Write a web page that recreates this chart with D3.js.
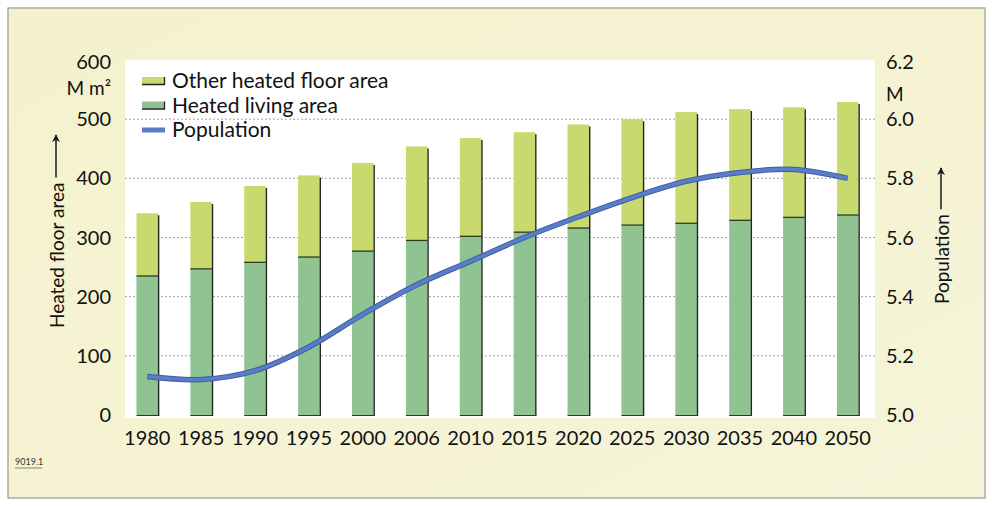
<!DOCTYPE html>
<html>
<head>
<meta charset="utf-8">
<script src="https://cdn.jsdelivr.net/npm/d3@7"></script>
<style>
  body { margin: 0; background: #fff; }
  svg text { font-family: Lato, "Open Sans", sans-serif; fill: #111; }
</style>
</head>
<body>
<svg id="chart" width="992" height="506"></svg>
<script>
// Data
const years = ['1980', '1985', '1990', '1995', '2000', '2006', '2010', '2015', '2020', '2025', '2030', '2035', '2040', '2050'];
const livingArea = [235, 247, 258, 267, 277, 295, 302, 309, 316, 321, 324, 329, 334, 338];
const totalArea = [341, 360, 387, 405, 426, 454, 468, 478, 491, 500, 512, 517, 520, 529];
const population = [5.13, 5.12, 5.15, 5.23, 5.34, 5.44, 5.52, 5.60, 5.67, 5.735, 5.79, 5.82, 5.83, 5.80];
const leftTicks = [0, 100, 200, 300, 400, 500, 600];
const rightTicks = [5.0, 5.2, 5.4, 5.6, 5.8, 6.0, 6.2];

const COLORS = {
    other: '#c8da6e',
    living: '#8fc391',
    line: '#5a7ec6'
};

const svg = d3.select('#chart');
const defs = svg.append('defs');

// Cream panel with frame
const grad = defs.append('linearGradient').attr('id', 'bg').attr('x1', 0).attr('x2', 1).attr('y1', 0).attr('y2', 1);
grad.append('stop').attr('offset', '0%').attr('stop-color', '#f4f2cd');
grad.append('stop').attr('offset', '100%').attr('stop-color', '#f6f4d8');

svg.append('rect')
    .attr('x', 8).attr('y', 8).attr('width', 977).attr('height', 490)
    .attr('fill', 'url(#bg)')
    .attr('stroke', '#9a9a90').attr('stroke-width', 1.2);

// Plot area
const plot = { left: 125, right: 875, top: 60, bottom: 418 };

svg.append('rect')
    .attr('x', plot.left).attr('y', plot.top)
    .attr('width', plot.right - plot.left).attr('height', plot.bottom - plot.top)
    .attr('fill', '#ffffff');

const x = d3.scaleBand()
    .domain(years)
    .range([123, 872])
    .paddingInner(0.6)
    .paddingOuter(0.25);

const yLeft = d3.scaleLinear().domain([0, 600]).range([415, 60]);
const yRight = d3.scaleLinear().domain([5.0, 6.2]).range([415, 60]);

// Dotted gridlines
svg.append('g')
    .selectAll('line')
    .data(leftTicks.filter(d => d > 0 && d < 600))
    .enter().append('line')
    .attr('x1', plot.left).attr('x2', plot.right)
    .attr('y1', d => yLeft(d)).attr('y2', d => yLeft(d))
    .attr('stroke', '#8a8a8a')
    .attr('stroke-width', 0.8)
    .attr('stroke-dasharray', '2,2');

// Bars
const bars = svg.append('g');
years.forEach((yr, i) => {
    const bx = x(yr);
    const bw = x.bandwidth();
    bars.append('rect')
        .attr('x', bx).attr('y', yLeft(totalArea[i]))
        .attr('width', bw).attr('height', yLeft(livingArea[i]) - yLeft(totalArea[i]))
        .attr('fill', COLORS.other);
    bars.append('rect')
        .attr('x', bx).attr('y', yLeft(livingArea[i]))
        .attr('width', bw).attr('height', yLeft(0) - yLeft(livingArea[i]))
        .attr('fill', COLORS.living);
    // segment divider
    bars.append('line')
        .attr('x1', bx).attr('x2', bx + bw)
        .attr('y1', yLeft(livingArea[i])).attr('y2', yLeft(livingArea[i]))
        .attr('stroke', '#2e3a22').attr('stroke-width', 1.3);
    // dark right edge
    bars.append('line')
        .attr('x1', bx + bw + 0.6).attr('x2', bx + bw + 0.6)
        .attr('y1', yLeft(totalArea[i]) + 2).attr('y2', yLeft(0) + 1)
        .attr('stroke', '#222').attr('stroke-width', 1.4);
    // bottom edge
    bars.append('line')
        .attr('x1', bx).attr('x2', bx + bw + 1.2)
        .attr('y1', yLeft(0) + 0.5).attr('y2', yLeft(0) + 0.5)
        .attr('stroke', '#333').attr('stroke-width', 1);
});

// Population line
const line = d3.line()
    .x((d, i) => x(years[i]) + x.bandwidth() / 2)
    .y(d => yRight(d))
    .curve(d3.curveCatmullRom.alpha(0.5));

svg.append('path')
    .datum(population)
    .attr('d', line)
    .attr('fill', 'none')
    .attr('stroke', '#3f5fa8')
    .attr('stroke-width', 5.5);
svg.append('path')
    .datum(population)
    .attr('d', line)
    .attr('fill', 'none')
    .attr('stroke', COLORS.line)
    .attr('stroke-width', 3.5);

// Left axis tick labels
svg.append('g')
    .selectAll('text')
    .data(leftTicks)
    .enter().append('text')
    .attr('x', 111)
    .attr('y', d => yLeft(d) + (d === 600 ? 9 : 7))
    .attr('text-anchor', 'end')
    .style('font-size', '20px')
    .text(d => d);

svg.append('text')
    .attr('x', 111).attr('y', 95)
    .attr('text-anchor', 'end')
    .style('font-size', '19px')
    .text('M m²');

// Right axis tick labels
svg.append('g')
    .selectAll('text')
    .data(rightTicks)
    .enter().append('text')
    .attr('x', 886)
    .attr('y', d => yRight(d) + (Math.abs(d - 6.2) < 1e-9 ? 9 : 7))
    .attr('text-anchor', 'start')
    .style('font-size', '20px')
    .text(d => d.toFixed(1));

svg.append('text')
    .attr('x', 886).attr('y', 101)
    .style('font-size', '19px')
    .text('M');

// X axis labels
svg.append('g')
    .selectAll('text')
    .data(years)
    .enter().append('text')
    .attr('x', d => x(d) + x.bandwidth() / 2)
    .attr('y', 445)
    .attr('text-anchor', 'middle')
    .style('font-size', '20px')
    .text(d => d);

// Axis titles with upward arrows
defs.append('marker')
    .attr('id', 'arrow')
    .attr('viewBox', '0 -5 10 10')
    .attr('refX', 9).attr('refY', 0)
    .attr('markerWidth', 8).attr('markerHeight', 8)
    .attr('markerUnits', 'userSpaceOnUse')
    .attr('orient', 'auto')
    .append('path')
    .attr('d', 'M0,-5L10,0L0,5L3,0Z')
    .attr('fill', '#1a1a1a');

function axisTitle(cx, bottomY, label, tipY) {
    const g = svg.append('g').attr('transform', `translate(${cx},${bottomY}) rotate(-90)`);
    const t = g.append('text')
        .attr('x', 0).attr('y', 0)
        .attr('dominant-baseline', 'central')
        .style('font-size', '19px')
        .text(label);
    const len = t.node().getComputedTextLength();
    g.append('line')
        .attr('x1', len + 5).attr('x2', bottomY - tipY)
        .attr('y1', 0).attr('y2', 0)
        .attr('stroke', '#1a1a1a').attr('stroke-width', 1.5)
        .attr('marker-end', 'url(#arrow)');
}
axisTitle(56, 328, 'Heated floor area', 135);
axisTitle(941, 304, 'Population', 168);

// Legend
const legendItems = [
    { label: 'Other heated floor area', color: COLORS.other, type: 'bar' },
    { label: 'Heated living area', color: COLORS.living, type: 'bar' },
    { label: 'Population', color: COLORS.line, type: 'line' }
];
const legend = svg.append('g');
legendItems.forEach((d, i) => {
    const ly = 80 + i * 24.5;
    if (d.type === 'bar') {
        legend.append('rect')
            .attr('x', 142).attr('y', ly - 3).attr('width', 22).attr('height', 7)
            .attr('fill', d.color);
        legend.append('path')
            .attr('d', `M142,${ly + 4.5}H164.5V${ly - 3}`)
            .attr('fill', 'none').attr('stroke', '#222').attr('stroke-width', 1.3);
    } else {
        legend.append('rect')
            .attr('x', 142).attr('y', ly - 1.5).attr('width', 23).attr('height', 5)
            .attr('fill', d.color);
    }
    legend.append('text')
        .attr('x', 172).attr('y', ly + 8)
        .style('font-size', '21px')
        .text(d.label);
});

// Figure number
svg.append('text')
    .attr('x', 15).attr('y', 465)
    .style('font-size', '9px')
    .style('fill', '#333')
    .text('9019.1');
svg.append('line')
    .attr('x1', 15).attr('x2', 42).attr('y1', 468).attr('y2', 468)
    .attr('stroke', '#666').attr('stroke-width', 0.8);
</script>
</body>
</html>
